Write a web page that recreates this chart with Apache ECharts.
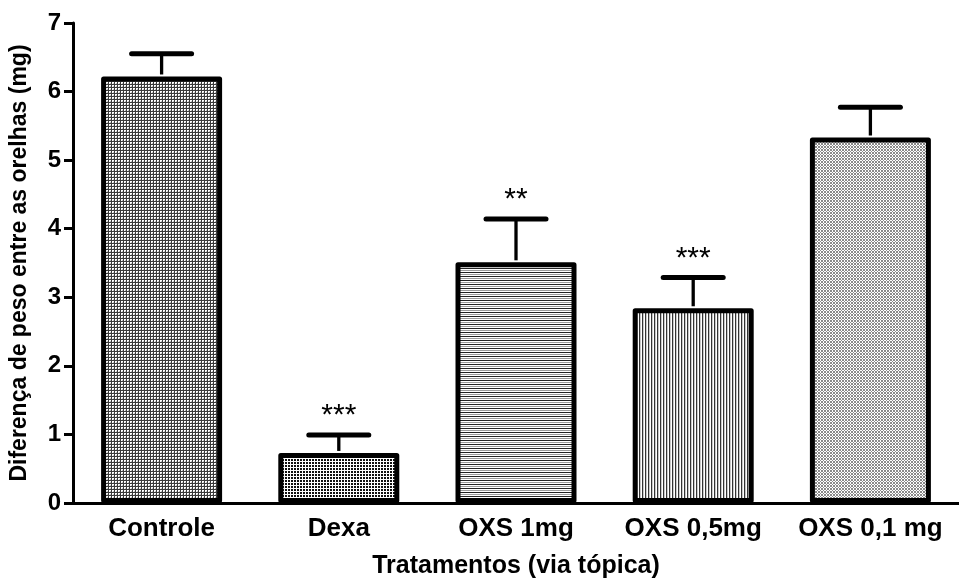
<!DOCTYPE html>
<html>
<head>
<meta charset="utf-8">
<script src="https://cdn.jsdelivr.net/npm/echarts@6/dist/echarts.min.js"></script>
<style>
html,body{margin:0;padding:0;background:#fff;}
#chart{width:959px;height:585px;}
</style>
</head>
<body>
<div id="chart"></div>
<script>
const categories = ['Controle', 'Dexa', 'OXS 1mg', 'OXS 0,5mg', 'OXS 0,1 mg'];
const means = [6.22, 0.73, 3.51, 2.84, 5.33];
const upperErrors = [6.55, 0.99, 4.14, 3.29, 5.77];
const significance = ['', '***', '**', '***', ''];
const yTicks = [0, 1, 2, 3, 4, 5, 6, 7];

function makePattern(rows, colors) {
  const h = rows.length, w = rows[0].length;
  const c = document.createElement('canvas');
  c.width = w; c.height = h;
  const ctx = c.getContext('2d');
  for (let y = 0; y < h; y++) {
    for (let x = 0; x < w; x++) {
      ctx.fillStyle = colors[rows[y][x]];
      ctx.fillRect(x, y, 1, 1);
    }
  }
  return { image: c, repeat: 'repeat' };
}

const patterns = [
  makePattern(['kkk', 'kww', 'kwg'], { k: '#3a3a3a', w: '#ffffff', g: '#bdbdbd' }),
  makePattern(['kkw', 'kkw', 'www'], { k: '#111111', w: '#ffffff' }),
  makePattern(['k', 'w', 'g', 'w'], { k: '#222222', w: '#ffffff', g: '#9a9a9a' }),
  makePattern(['kgw'], { k: '#333333', w: '#ffffff', g: '#c8c8c8' }),
  makePattern(['gwg', 'wgw', 'gwg'], { g: '#8a8a8a', w: '#ffffff' })
];

const chart = echarts.init(document.getElementById('chart'));
const font = 'Liberation Sans, Arial, sans-serif';

chart.setOption({
  animation: false,
  grid: { left: 72, right: -6, top: 23, bottom: 82, containLabel: false },
  xAxis: {
    type: 'category',
    data: categories,
    name: 'Tratamentos (via tópica)',
    nameLocation: 'middle',
    nameGap: 51,
    nameTextStyle: { fontFamily: font, fontWeight: 'bold', fontSize: 25, color: '#000' },
    axisLine: { lineStyle: { color: '#000', width: 3 } },
    axisTick: { alignWithLabel: true, length: 9, lineStyle: { color: '#000', width: 3 } },
    axisLabel: { interval: 0, hideOverlap: false, fontFamily: font, fontWeight: 'bold', fontSize: 26, color: '#000', margin: 13 },
    splitLine: { show: false }
  },
  yAxis: {
    type: 'value',
    min: 0, max: 7, interval: 1,
    name: 'Diferença de peso entre as orelhas (mg)',
    nameLocation: 'middle',
    nameGap: 42,
    nameRotate: 90,
    nameTextStyle: { fontFamily: font, fontWeight: 'bold', fontSize: 23, color: '#000' },
    axisLine: { show: true, lineStyle: { color: '#000', width: 3 } },
    axisTick: { show: true, length: 9, lineStyle: { color: '#000', width: 3 } },
    axisLabel: { fontFamily: font, fontWeight: 'bold', fontSize: 24, color: '#000', margin: 12,
      formatter: v => yTicks.includes(v) ? String(v) : '' },
    splitLine: { show: false }
  },
  series: [
    {
      type: 'bar',
      barWidth: 121,
      data: means.map((v, i) => ({
        value: v,
        itemStyle: { color: patterns[i], borderColor: '#000', borderWidth: 5, borderJoin: 'round' }
      })),
      z: 2
    },
    {
      type: 'custom',
      z: 3,
      data: means.map((m, i) => [i, m, upperErrors[i]]),
      renderItem: function (params, api) {
        const i = api.value(0);
        const pTop = api.coord([i, api.value(2)]);
        const pBar = api.coord([i, api.value(1)]);
        const half = 30;
        const children = [
          { type: 'line', shape: { x1: pTop[0], y1: pTop[1], x2: pBar[0], y2: pBar[1] - 2 },
            style: { stroke: '#000', lineWidth: 3.3 } },
          { type: 'line', shape: { x1: pTop[0] - half, y1: pTop[1], x2: pTop[0] + half, y2: pTop[1] },
            style: { stroke: '#000', lineWidth: 5, lineCap: 'round' } }
        ];
        const s = significance[params.dataIndex];
        if (s) {
          children.push({ type: 'text', x: pTop[0], y: pTop[1] - 4,
            style: { text: s, fontFamily: font, fontSize: 30, fill: '#000', align: 'center', verticalAlign: 'bottom' } });
        }
        return { type: 'group', children };
      }
    }
  ]
});
</script>
</body>
</html>
